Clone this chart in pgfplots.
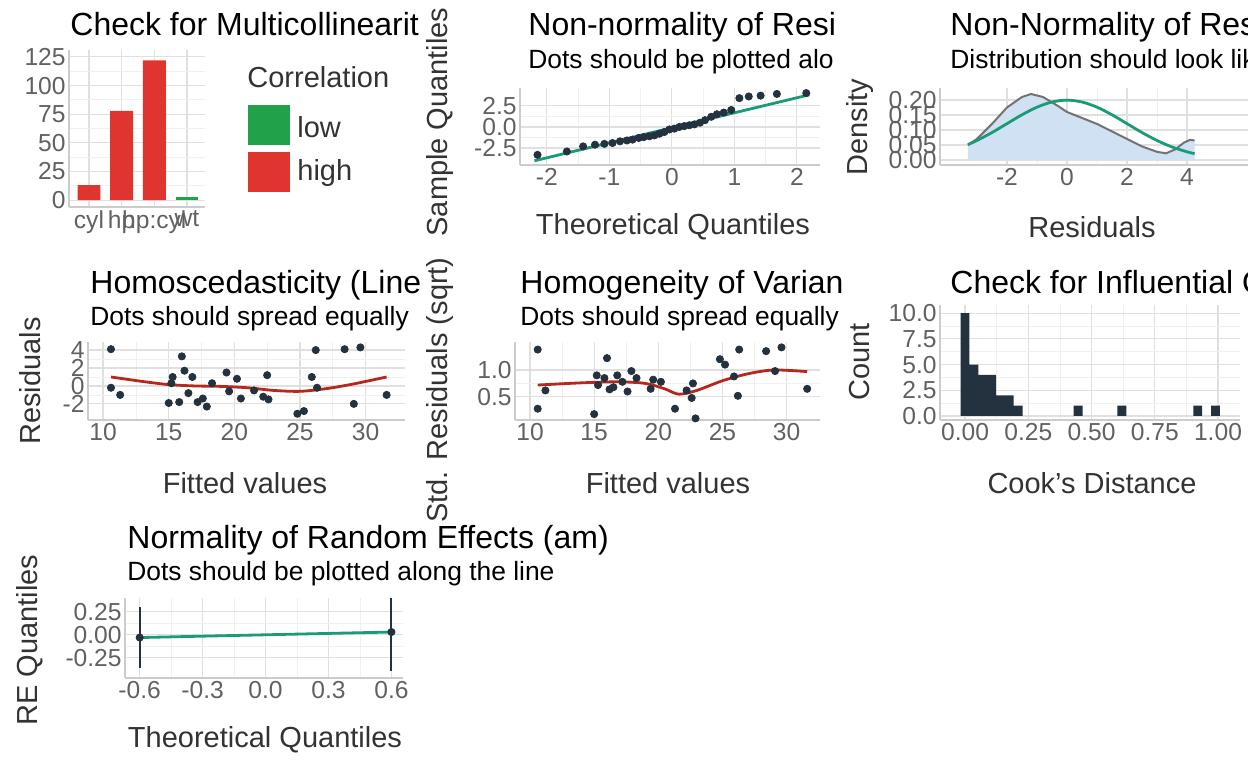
\documentclass[border=0pt]{standalone}
\usepackage{pgfplots}
\pgfplotsset{compat=1.18}
\usepackage{fontspec}
\setmainfont{Liberation Sans}
\definecolor{pt}{HTML}{24313F}
\definecolor{gr}{HTML}{1B9A78}
\definecolor{lgr}{HTML}{22A14B}
\definecolor{rd}{HTML}{E0352F}
\definecolor{crv}{HTML}{B5281E}
\definecolor{fillb}{HTML}{CFE1F2}
\newcommand{\tfont}{\fontsize{16}{18}\selectfont}
\newcommand{\sfont}{\fontsize{13.2}{15}\selectfont}
\newcommand{\lfont}{\fontsize{14.5}{16}\selectfont}
\pgfplotsset{panel/.style={scale only axis, anchor=north west,
  axis lines*=left, axis line style={black!20, line width=0.8pt},
  major tick length=0pt, minor tick length=0pt,
  grid=both, major grid style={black!12, line width=0.6pt},
  minor grid style={black!6, line width=0.4pt},
  tick label style={font=\fontsize{12.3}{13}\selectfont, text=black!62, inner sep=1.5pt},
  /pgf/number format/assume math mode=true}}
\tikzset{tx/.style={inner sep=0pt, anchor=base west}}
\begin{document}
\begin{tikzpicture}
\useasboundingbox (0,0) rectangle (624pt,-384pt);
% ---- Panel 1
\begin{axis}[panel, at={(34.5pt,-25pt)}, width=68pt, height=78.5pt,
  xmin=-0.61, xmax=3.55, ymin=-6, ymax=131,
  xtick={0,1,2,3}, xticklabels={cyl,hp,hp:cyl,wt},
  ytick={0,25,50,75,100,125}, minor y tick num=1,
  ybar, bar width=0.7, bar shift=0pt]
\addplot[fill=rd, draw=none] coordinates {(0,13) (1,78) (2,122)};
\addplot[fill=lgr, draw=none] coordinates {(3,3)};
\end{axis}
\node[tx, font=\tfont] at (35pt,-17.5pt) {Check for Multicollinearit};
\node[inner sep=0pt, anchor=west, font=\lfont, text=black!80] at (123.5pt,-38.5pt) {Correlation};
\fill[lgr] (124pt,-52.5pt) rectangle (145pt,-72.5pt);
\fill[rd] (124pt,-76pt) rectangle (145pt,-96pt);
\node[inner sep=0pt, anchor=west, font=\lfont, text=black!80] at (148.5pt,-63.5pt) {low};
\node[inner sep=0pt, anchor=west, font=\lfont, text=black!80] at (148.5pt,-86.5pt) {high};
% ---- Panel 2
\begin{axis}[panel, at={(260pt,-44pt)}, width=150pt, height=38.5pt,
  xmin=-2.43, xmax=2.37, ymin=-4.5, ymax=4.6,
  xtick={-2,-1,0,1,2}, xticklabels={-2,-1,0,1,2}, minor x tick num=1,
  ytick={-2.5,0,2.5}, yticklabels={-2.5,0.0,2.5}, minor y tick num=1]
\addplot[gr, line width=1.4pt] coordinates {(-2.2,-4.0) (2.2,3.8)};
\addplot[only marks, mark=*, mark size=1.8pt, pt] coordinates {
(-2.15,-3.3)(-1.68,-2.9)(-1.42,-2.3)(-1.23,-2.1)(-1.08,-2.0)(-0.95,-1.9)(-0.83,-1.7)(-0.72,-1.6)
(-0.63,-1.5)(-0.53,-1.3)(-0.45,-1.2)(-0.36,-1.1)(-0.28,-1.0)(-0.2,-0.8)(-0.12,-0.6)(-0.04,-0.3)
(0.04,-0.2)(0.12,0.0)(0.2,0.1)(0.28,0.2)(0.36,0.3)(0.45,0.5)(0.53,0.8)(0.63,1.2)
(0.72,1.5)(0.83,1.7)(0.95,2.0)(1.08,3.4)(1.23,3.6)(1.42,3.7)(1.68,3.9)(2.15,4.0)};
\end{axis}
\node[tx, font=\tfont] at (264pt,-17.5pt) {Non-normality of Resi};
\node[tx, font=\sfont] at (264pt,-34pt) {Dots should be plotted alo};
\node[rotate=90, font=\lfont, text=black!80] at (220pt,-61pt) {Sample Quantiles};
\node[font=\lfont, text=black!80] at (336.5pt,-113.5pt) {Theoretical Quantiles};
% ---- Panel 3
\begin{axis}[panel, at={(470pt,-44pt)}, width=154pt, height=38.5pt,
  xmin=-4.23, xmax=6.03, ymin=-0.017, ymax=0.24,
  xtick={-2,0,2,4}, xticklabels={-2,0,2,4}, minor x tick num=1,
  ytick={0,0.05,0.1,0.15,0.2}, yticklabels={0.00,0.05,0.10,0.15,0.20}]
\addplot[fill=fillb, draw=none] coordinates {
(-3.3,0) (-3.3,0.05)(-3,0.07)(-2.5,0.12)(-2,0.175)(-1.5,0.21)(-1.2,0.22)(-0.8,0.21)(-0.3,0.18)(0,0.16)
(0.5,0.14)(1,0.12)(1.5,0.095)(2,0.07)(2.5,0.045)(3,0.027)(3.3,0.022)(3.6,0.035)(3.9,0.058)
(4.1,0.067)(4.25,0.065)(4.25,0)} -- cycle;
\addplot[draw=black!55, line width=1pt] coordinates {
(-3.3,0.05)(-3,0.07)(-2.5,0.12)(-2,0.175)(-1.5,0.21)(-1.2,0.22)(-0.8,0.21)(-0.3,0.18)(0,0.16)
(0.5,0.14)(1,0.12)(1.5,0.095)(2,0.07)(2.5,0.045)(3,0.027)(3.3,0.022)(3.6,0.035)(3.9,0.058)
(4.1,0.067)(4.25,0.065)};
\addplot[gr, line width=1.4pt, smooth] coordinates {
(-3.3,0.0511)(-3,0.0648)(-2.5,0.0913)(-2,0.121)(-1.5,0.1506)(-1,0.176)(-0.5,0.1933)(0,0.1995)
(0.5,0.1933)(1,0.176)(1.5,0.1506)(2,0.121)(2.5,0.0913)(3,0.0648)(3.5,0.0431)(4,0.027)(4.25,0.0209)};
\end{axis}
\node[tx, font=\tfont] at (475pt,-17.5pt) {Non-Normality of Res};
\node[tx, font=\sfont] at (475pt,-34pt) {Distribution should look lik};
\node[rotate=90, font=\lfont, text=black!80] at (430pt,-63.5pt) {Density};
\node[font=\lfont, text=black!80] at (546pt,-113.5pt) {Residuals};
% ---- Panel 4
\begin{axis}[panel, at={(44pt,-171pt)}, width=158.5pt, height=39pt,
  xmin=8.85, xmax=33, ymin=-3.8, ymax=4.9,
  xtick={10,15,20,25,30}, minor x tick num=1,
  ytick={-2,0,2,4}, yticklabels={-2,0,2,4}, minor y tick num=1]
\addplot[crv, line width=1.4pt, smooth] coordinates {
(10.6,1.0)(13,0.5)(15,0.15)(17,0.0)(19,-0.05)(21,-0.2)(23,-0.5)(25,-0.6)(27,-0.3)(29,0.2)(31.6,1.0)};
\addplot[only marks, mark=*, mark size=1.8pt, pt] coordinates {
(10.6,4.1)(10.6,-0.2)(11.3,-1.0)(15.0,-1.9)(15.2,0.3)(15.3,1.0)(15.8,-1.8)(16.0,3.3)(16.2,1.7)
(16.5,-0.8)(16.8,1.0)(17.2,-1.8)(17.6,-1.4)(17.9,-2.3)(18.3,0.3)(19.4,1.5)(19.6,-0.6)(20.2,0.8)
(20.5,-1.4)(21.5,-0.5)(22.2,-1.2)(22.5,1.2)(22.6,-1.5)(24.8,-3.1)(25.3,-2.8)(25.9,1.0)(26.2,4.0)
(26.3,-0.2)(28.4,4.1)(29.1,-2.0)(29.6,4.3)(31.6,-1.0)};
\end{axis}
\node[tx, font=\tfont] at (45pt,-146.5pt) {Homoscedasticity (Line};
\node[tx, font=\sfont] at (45pt,-162.5pt) {Dots should spread equally};
\node[rotate=90, font=\lfont, text=black!80] at (15pt,-190.5pt) {Residuals};
\node[font=\lfont, text=black!80] at (122.5pt,-241.5pt) {Fitted values};
% ---- Panel 5
\begin{axis}[panel, at={(257.5pt,-171pt)}, width=152.5pt, height=39pt,
  xmin=8.83, xmax=32.6, ymin=0.07, ymax=1.52,
  xtick={10,15,20,25,30}, minor x tick num=1,
  ytick={0.5,1.0}, yticklabels={0.5,1.0}, minor y tick num=1]
\addplot[crv, line width=1.4pt, smooth] coordinates {
(10.6,0.72)(13,0.75)(15,0.77)(17,0.78)(19,0.75)(20.5,0.65)(21.6,0.55)(23,0.62)(25,0.8)(27,0.93)(29,1.0)(31.6,0.97)};
\addplot[only marks, mark=*, mark size=1.8pt, pt] coordinates {
(10.6,1.38)(10.6,0.28)(11.2,0.62)(15.0,0.18)(15.2,0.9)(15.3,0.72)(15.8,0.85)(16.0,1.22)(16.2,0.64)
(16.5,0.68)(16.8,0.9)(17.2,0.78)(17.6,0.6)(17.9,0.98)(18.3,0.85)(19.4,0.65)(19.6,0.82)(20.2,0.78)
(21.3,0.28)(22.2,0.62)(22.6,0.48)(22.7,0.75)(22.9,0.1)(24.8,1.2)(25.2,1.1)(25.9,0.88)(26.2,0.52)
(26.3,1.38)(28.4,1.35)(29.1,0.98)(29.6,1.42)(31.6,0.65)};
\end{axis}
\node[tx, font=\tfont] at (260pt,-146.5pt) {Homogeneity of Varian};
\node[tx, font=\sfont] at (260pt,-162.5pt) {Dots should spread equally};
\node[rotate=90, font=\lfont, text=black!80] at (220pt,-195pt) {Std. Residuals (sqrt)};
\node[font=\lfont, text=black!80] at (334pt,-241.5pt) {Fitted values};
% ---- Panel 6
\begin{axis}[panel, at={(470pt,-152.5pt)}, width=150pt, height=57.5pt,
  xmin=-0.099, xmax=1.087, ymin=-0.4, ymax=10.8,
  xtick={0,0.25,0.5,0.75,1}, xticklabels={0.00,0.25,0.50,0.75,1.00}, minor x tick num=1,
  ytick={0,2.5,5,7.5,10}, yticklabels={0.0,2.5,5.0,7.5,10.0}, minor y tick num=1,
  ybar, bar width=0.035, bar shift=0pt]
\addplot[fill=pt, draw=none] coordinates {
(0.0,10)(0.035,5)(0.07,4)(0.105,4)(0.14,2)(0.175,2)(0.21,1)(0.447,1)(0.62,1)(0.92,1)(0.99,1)};
\end{axis}
\node[tx, font=\tfont] at (475pt,-146.5pt) {Check for Influential O};
\node[rotate=90, font=\lfont, text=black!80] at (430pt,-181pt) {Count};
\node[font=\lfont, text=black!80] at (546pt,-241.5pt) {Cook's Distance};
% ---- Panel 7
\begin{axis}[panel, at={(62.5pt,-299pt)}, width=139pt, height=40pt,
  xmin=-0.67, xmax=0.655, ymin=-0.47, ymax=0.40,
  xtick={-0.6,-0.3,0,0.3,0.6}, xticklabels={-0.6,-0.3,0.0,0.3,0.6}, minor x tick num=1,
  ytick={-0.25,0,0.25}, yticklabels={-0.25,0.00,0.25}, minor y tick num=1]
\addplot[gr, line width=1.4pt] coordinates {(-0.6,-0.03) (0.6,0.03)};
\addplot[only marks, mark=*, mark size=1.8pt, pt,
  error bars/.cd, y dir=both, y explicit, error bar style={pt, line width=1pt}, error mark=none]
  coordinates {(-0.6,-0.03) +- (0,0.33) (0.6,0.03) +- (0,0.42)};
\end{axis}
\node[tx, font=\tfont] at (63.5pt,-274pt) {Normality of Random Effects (am)};
\node[tx, font=\sfont] at (63.5pt,-290pt) {Dots should be plotted along the line};
\node[rotate=90, font=\lfont, text=black!80] at (15pt,-320pt) {RE Quantiles};
\node[font=\lfont, text=black!80] at (132.5pt,-370pt) {Theoretical Quantiles};
\end{tikzpicture}
\end{document}
